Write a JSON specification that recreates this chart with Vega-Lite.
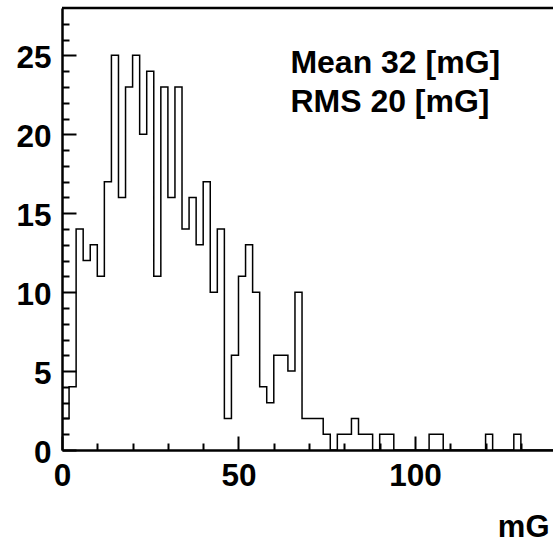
{
  "$schema": "https://vega.github.io/schema/vega-lite/v6.json",
  "width": 491,
  "height": 442,
  "autosize": "none",
  "padding": {"left": 62, "top": 8, "right": 0, "bottom": 93},
  "background": "white",
  "config": {"view": {"stroke": null}, "font": "Liberation Sans"},
  "datasets": {
    "hist": [
      {"x": 0, "count": 2}, {"x": 2, "count": 4}, {"x": 4, "count": 14}, {"x": 6, "count": 12},
      {"x": 8, "count": 13}, {"x": 10, "count": 11}, {"x": 12, "count": 17}, {"x": 14, "count": 25},
      {"x": 16, "count": 16}, {"x": 18, "count": 23}, {"x": 20, "count": 25}, {"x": 22, "count": 20},
      {"x": 24, "count": 24}, {"x": 26, "count": 11}, {"x": 28, "count": 23}, {"x": 30, "count": 16},
      {"x": 32, "count": 23}, {"x": 34, "count": 14}, {"x": 36, "count": 16}, {"x": 38, "count": 13},
      {"x": 40, "count": 17}, {"x": 42, "count": 10}, {"x": 44, "count": 14}, {"x": 46, "count": 2},
      {"x": 48, "count": 6}, {"x": 50, "count": 11}, {"x": 52, "count": 13}, {"x": 54, "count": 10},
      {"x": 56, "count": 4}, {"x": 58, "count": 3}, {"x": 60, "count": 6}, {"x": 62, "count": 6},
      {"x": 64, "count": 5}, {"x": 66, "count": 10}, {"x": 68, "count": 2}, {"x": 70, "count": 2},
      {"x": 72, "count": 2}, {"x": 74, "count": 1}, {"x": 76, "count": 0}, {"x": 78, "count": 1},
      {"x": 80, "count": 1}, {"x": 82, "count": 2}, {"x": 84, "count": 1}, {"x": 86, "count": 1},
      {"x": 88, "count": 0}, {"x": 90, "count": 1}, {"x": 92, "count": 1}, {"x": 94, "count": 0},
      {"x": 96, "count": 0}, {"x": 98, "count": 0}, {"x": 100, "count": 0}, {"x": 102, "count": 0},
      {"x": 104, "count": 1}, {"x": 106, "count": 1}, {"x": 108, "count": 0}, {"x": 110, "count": 0},
      {"x": 112, "count": 0}, {"x": 114, "count": 0}, {"x": 116, "count": 0}, {"x": 118, "count": 0},
      {"x": 120, "count": 1}, {"x": 122, "count": 0}, {"x": 124, "count": 0}, {"x": 126, "count": 0},
      {"x": 128, "count": 1}, {"x": 130, "count": 0}, {"x": 132, "count": 0}, {"x": 134, "count": 0},
      {"x": 136, "count": 0}, {"x": 138, "count": 0}, {"x": 140, "count": 0}
    ],
    "stats": [
      {"x": 64.7, "y": 23.86, "label": "Mean 32 [mG]"},
      {"x": 64.7, "y": 21.43, "label": "RMS 20 [mG]"}
    ],
    "frame": [{"top": 28}]
  },
  "layer": [
    {
      "data": {"name": "hist"},
      "mark": {"type": "line", "interpolate": "step-after", "color": "black", "strokeWidth": 1.5, "clip": true},
      "encoding": {
        "x": {
          "field": "x", "type": "quantitative",
          "scale": {"domain": [0, 139.1], "nice": false, "zero": false},
          "axis": {
            "orient": "bottom", "values": [0, 50, 100], "tickSize": -14, "tickWidth": 2, "tickColor": "black",
            "domain": true, "domainColor": "black", "domainWidth": 2.5, "grid": false,
            "labelFont": "Liberation Sans", "labelFontWeight": "bold", "labelFontSize": 31.5, "labelColor": "black",
            "labelPadding": 24, "labelBaseline": "top", "labelFlush": false, "labelOverlap": false,
            "title": "mG", "titleFont": "Liberation Sans", "titleFontWeight": "bold", "titleFontSize": 31,
            "titleColor": "black", "titleAlign": "right", "titleBaseline": "alphabetic", "titleX": 487, "titleY": 86
          }
        },
        "y": {
          "field": "count", "type": "quantitative",
          "scale": {"domain": [0, 28], "nice": false, "zero": true},
          "axis": {
            "orient": "left", "values": [0, 5, 10, 15, 20, 25], "tickSize": -14, "tickWidth": 2, "tickColor": "black",
            "domain": true, "domainColor": "black", "domainWidth": 2.5, "grid": false,
            "labelFont": "Liberation Sans", "labelFontWeight": "bold", "labelFontSize": 31.5, "labelColor": "black",
            "labelPadding": 25, "labelOffset": 3, "labelFlush": false, "labelOverlap": false, "title": null
          }
        }
      }
    },
    {
      "data": {"name": "stats"},
      "mark": {"type": "text", "align": "left", "baseline": "alphabetic", "font": "Liberation Sans", "fontWeight": "bold", "fontSize": 32, "color": "black"},
      "encoding": {
        "x": {
          "field": "x", "type": "quantitative",
          "axis": {
            "orient": "bottom", "values": [10, 20, 30, 40, 60, 70, 80, 90, 110, 120, 130],
            "tickSize": -7, "tickWidth": 2, "tickColor": "black", "domain": false, "labels": false, "grid": false, "title": null
          }
        },
        "y": {
          "field": "y", "type": "quantitative",
          "axis": {
            "orient": "left", "values": [1, 2, 3, 4, 6, 7, 8, 9, 11, 12, 13, 14, 16, 17, 18, 19, 21, 22, 23, 24, 26, 27],
            "tickSize": -7, "tickWidth": 2, "tickColor": "black", "domain": false, "labels": false, "grid": false, "title": null
          }
        },
        "text": {"field": "label"}
      }
    },
    {
      "data": {"name": "frame"},
      "mark": {"type": "rule", "color": "black", "strokeWidth": 2.5},
      "encoding": {
        "y": {"field": "top", "type": "quantitative", "axis": null}
      }
    }
  ],
  "resolve": {"axis": {"x": "independent", "y": "independent"}}
}
